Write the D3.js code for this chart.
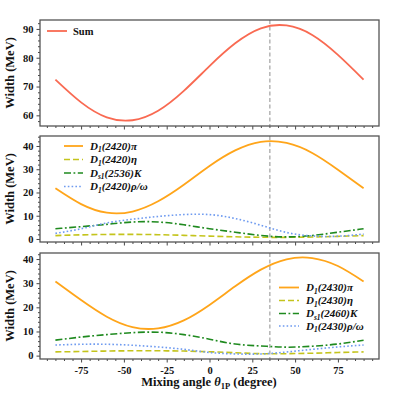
<!DOCTYPE html>
<html><head><meta charset="utf-8">
<script src="https://cdn.jsdelivr.net/npm/d3@7"></script>
<style>body{margin:0;background:#fff}svg{display:block}text{font-family:"Liberation Serif","Times New Roman",serif;font-weight:bold}</style>
</head><body><svg id="c" width="399" height="399"></svg>
<script>
const theta = [-90,-75,-60,-45,-30,-15,0,15,30,45,60,75,90];
const sumW = [72.4,64.5,59.3,58.3,61.6,68.5,77.1,85.0,90.2,91.2,87.9,81.0,72.4];
const d2420pi = [21.8,15.0,11.3,11.8,16.2,23.3,31.4,38.1,41.8,41.3,37.0,29.8,21.8];
const d2420eta = [1.46,1.77,1.96,1.99,1.85,1.57,1.24,0.93,0.74,0.71,0.85,1.13,1.46];
const ds2536K = [4.4,5.3,6.3,7.3,7.3,6.1,4.4,2.9,1.5,0.9,1.5,2.9,4.4];
const d2420rho = [2.4,4.4,6.9,8.5,9.7,10.5,10.5,8.8,5.9,2.8,1.3,1.2,2.1];
const d2430pi = [30.7,23.0,16.1,11.8,11.3,14.6,21.0,28.7,35.6,39.9,40.4,37.1,30.7];
const d2430eta = [1.55,1.7,1.9,2.0,2.0,1.9,1.6,1.2,0.8,0.8,1.0,1.3,1.55];
const ds2460K = [6.4,7.7,8.7,9.5,9.7,8.7,6.8,4.8,4.0,3.5,3.9,4.8,6.4];
const d2430rho = [4.4,4.7,4.7,4.3,3.6,2.6,1.3,0.7,0.7,1.5,2.6,3.6,4.4];
const idealAngle = 35.26;
const xTicks = [-75,-50,-25,0,25,50,75];
const yTicksTop = [60,70,80,90];
const yTicksLow = [0,10,20,30,40];

const svg = d3.select("#c");
const L = 40, R = 379;
const x = d3.scaleLinear().domain([-99,99]).range([L,R]);

const sty = {
  sum:{c:"#f96a52",d:null,w:1.8},
  pi:{c:"#ffa51a",d:null,w:1.8},
  eta:{c:"#c4c41c",d:"6,3",w:1.6},
  K:{c:"#1f8a1f",d:"7,2.5,1.8,2.5",w:1.6},
  rho:{c:"#6f9bf0",d:"1.6,2.2",w:1.6}
};

function panel(top, bottom, ydom, yt, series, showX){
  const y = d3.scaleLinear().domain(ydom).range([bottom, top]);
  const g = svg.append("g");
  const xMinor = d3.range(-95,96,5).filter(v=>v%25!==0);
  g.append("g").attr("transform",`translate(0,${bottom})`)
    .call(d3.axisBottom(x).tickValues(xMinor).tickSize(2).tickFormat(""))
    .call(a=>a.select(".domain").remove());
  const xa = g.append("g").attr("transform",`translate(0,${bottom})`)
    .call(d3.axisBottom(x).tickValues(xTicks).tickSize(3.5).tickPadding(4).tickFormat(showX? d3.format("d"):""));
  xa.select(".domain").remove();
  xa.selectAll("text").attr("font-size",10.5).attr("fill","#111").style("font-family","Liberation Serif").style("font-weight","bold").text(d=>showX?(d<0?"-"+(-d):d):"");
  const yMinor = d3.range(Math.ceil(ydom[0]/2)*2, ydom[1], 2).filter(v=>v%10!==0);
  g.append("g").attr("transform",`translate(${L},0)`)
    .call(d3.axisLeft(y).tickValues(yMinor).tickSize(2).tickFormat(""))
    .call(a=>a.select(".domain").remove());
  const ya = g.append("g").attr("transform",`translate(${L},0)`)
    .call(d3.axisLeft(y).tickValues(yt).tickSize(3.5).tickPadding(3));
  ya.select(".domain").remove();
  ya.selectAll("text").attr("font-size",10.5).attr("fill","#111").style("font-family","Liberation Serif").style("font-weight","bold");
  g.selectAll(".tick line").attr("stroke","#333").attr("stroke-width",0.9);
  g.append("line").attr("x1",x(idealAngle)).attr("x2",x(idealAngle)).attr("y1",top).attr("y2",bottom)
    .attr("stroke","#9a9a9a").attr("stroke-width",1.1).attr("stroke-dasharray","4,2.5");
  const line = d3.line().x((d,i)=>x(theta[i])).y(d=>y(d)).curve(d3.curveNatural);
  series.forEach(s=>{
    g.append("path").datum(s.v).attr("d",line).attr("fill","none")
      .attr("stroke",s.s.c).attr("stroke-width",s.s.w).attr("stroke-dasharray",s.s.d);
  });
  g.append("rect").attr("x",L).attr("y",top).attr("width",R-L).attr("height",bottom-top)
    .attr("fill","none").attr("stroke","#555").attr("stroke-width",1.3);
  svg.append("text").attr("transform",`translate(14,${(top+bottom)/2}) rotate(-90)`)
    .attr("text-anchor","middle").attr("font-size",12.5).attr("fill","#111").text("Width (MeV)");
  return y;
}

panel(20,126,[56.3,93.1],yTicksTop,[{v:sumW,s:sty.sum}],false);
panel(136,242,[-1.3,44.3],yTicksLow,[
  {v:d2420eta,s:sty.eta},{v:ds2536K,s:sty.K},{v:d2420rho,s:sty.rho},{v:d2420pi,s:sty.pi}],false);
panel(253,359,[-1.4,42.5],yTicksLow,[
  {v:d2430eta,s:sty.eta},{v:ds2460K,s:sty.K},{v:d2430rho,s:sty.rho},{v:d2430pi,s:sty.pi}],true);

function legend(x0, x1, tx, ys, items, fs){
  items.forEach((it,i)=>{
    svg.append("line").attr("x1",x0).attr("x2",x1).attr("y1",ys[i]).attr("y2",ys[i])
      .attr("stroke",it.s.c).attr("stroke-width",it.s.w).attr("stroke-dasharray",it.s.d);
    const t = svg.append("text").attr("x",tx).attr("y",ys[i]+3.8).attr("font-size",fs).attr("fill","#111");
    it.parts.forEach(p=>{
      const ts = t.append("tspan").text(p[0]);
      if(p[1]==="i") ts.attr("font-style","italic");
      if(p[1]==="sub") ts.attr("font-style","italic").attr("font-size",fs*0.68).attr("dy",2.5);
      if(p[1]==="after") ts.attr("font-style","italic").attr("dy",-2.5);
    });
  });
}
legend(47,67,73,[31],[{s:sty.sum,parts:[["Sum",""]]}],10.5);
legend(64,83,90,[146,159.5,173,186.5],[
  {s:sty.pi,parts:[["D","i"],["1","sub"],["(2420)π","after"]]},
  {s:sty.eta,parts:[["D","i"],["1","sub"],["(2420)η","after"]]},
  {s:sty.K,parts:[["D","i"],["s1","sub"],["(2536)K","after"]]},
  {s:sty.rho,parts:[["D","i"],["1","sub"],["(2420)ρ/ω","after"]]}],11);
legend(279,299,306,[287.5,300.5,313.5,326],[
  {s:sty.pi,parts:[["D","i"],["1","sub"],["(2430)π","after"]]},
  {s:sty.eta,parts:[["D","i"],["1","sub"],["(2430)η","after"]]},
  {s:sty.K,parts:[["D","i"],["s1","sub"],["(2460)K","after"]]},
  {s:sty.rho,parts:[["D","i"],["1","sub"],["(2430)ρ/ω","after"]]}],11);

const xl = svg.append("text").attr("x",209).attr("y",386).attr("text-anchor","middle").attr("font-size",12.5).attr("fill","#111");
xl.append("tspan").text("Mixing angle ");
xl.append("tspan").attr("font-style","italic").text("θ");
xl.append("tspan").attr("font-size",8.5).attr("dy",2.5).text("1P");
xl.append("tspan").attr("dy",-2.5).text(" (degree)");
</script></body></html>
